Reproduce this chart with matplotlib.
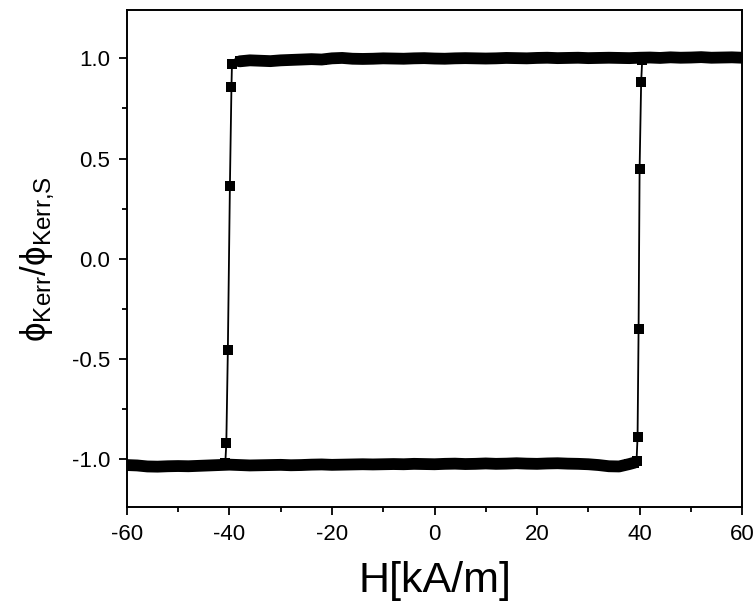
import numpy as np
import matplotlib
matplotlib.use("Agg")
import matplotlib.pyplot as plt
from matplotlib.ticker import MultipleLocator

plt.rcParams['font.family'] = ['Liberation Sans', 'DejaVu Sans']
plt.rcParams['mathtext.fontset'] = 'custom'
plt.rcParams['mathtext.rm'] = 'Liberation Sans'
plt.rcParams['mathtext.it'] = 'Liberation Sans'
plt.rcParams['axes.unicode_minus'] = False

# Saturated branches of the Kerr loop (field in kA/m, normalised Kerr rotation)
H_upper = [-38, -36, -34, -32, -30, -28, -26, -24, -22, -20, -18, -16, -14, -12,
           -10, -8, -6, -4, -2, 0, 2, 4, 6, 8, 10, 12, 14, 16, 18, 20, 22, 24,
           26, 28, 30, 32, 34, 36, 38, 40, 42, 44, 46, 48, 50, 52, 54, 56, 58, 60]
M_upper = [0.985, 0.990, 0.988, 0.986, 0.990, 0.992, 0.994, 0.996, 0.994, 1.000,
           1.002, 0.998, 0.997, 0.998, 1.000, 0.999, 0.998, 1.000, 1.001, 0.999,
           0.998, 1.000, 1.001, 1.000, 0.999, 1.000, 1.002, 1.001, 1.000, 1.002,
           1.003, 1.001, 1.002, 1.003, 1.001, 1.002, 1.003, 1.002, 1.001, 1.003,
           1.004, 1.002, 1.005, 1.003, 1.004, 1.006, 1.003, 1.004, 1.005, 1.003]

H_lower = [-60, -58, -56, -54, -52, -50, -48, -46, -44, -42, -40, -38, -36, -34,
           -32, -30, -28, -26, -24, -22, -20, -18, -16, -14, -12, -10, -8, -6,
           -4, -2, 0, 2, 4, 6, 8, 10, 12, 14, 16, 18, 20, 22, 24, 26, 28, 30, 32,
           34, 36, 38, 39]
M_lower = [-1.030, -1.032, -1.037, -1.038, -1.036, -1.035, -1.036, -1.034, -1.032,
           -1.030, -1.028, -1.030, -1.032, -1.031, -1.030, -1.029, -1.031, -1.030,
           -1.028, -1.027, -1.029, -1.028, -1.027, -1.026, -1.027, -1.026, -1.025,
           -1.026, -1.024, -1.025, -1.026, -1.024, -1.023, -1.025, -1.024, -1.022,
           -1.024, -1.023, -1.021, -1.023, -1.024, -1.022, -1.021, -1.023, -1.024,
           -1.026, -1.030, -1.036, -1.037, -1.025, -1.018]

# Switching points
H_down = [-39.5, -39.6, -39.9, -40.3, -40.6, -40.8]
M_down = [0.970, 0.855, 0.365, -0.455, -0.920, -1.020]
H_up = [39.4, 39.6, 39.8, 40.0, 40.3, 40.5]
M_up = [-1.010, -0.890, -0.350, 0.450, 0.880, 0.990]

# Descending sweep: +60 -> -60, ascending sweep: -60 -> +60
h_u = np.array(H_upper, dtype=float)
m_u = np.array(M_upper)
h_l = np.array(H_lower, dtype=float)
m_l = np.array(M_lower)
desc_h = np.concatenate([h_u[::-1], H_down, h_l[h_l < -41][::-1]])
desc_m = np.concatenate([m_u[::-1], M_down, m_l[h_l < -41][::-1]])
asc_h = np.concatenate([h_l, H_up, h_u[h_u > 41]])
asc_m = np.concatenate([m_l, M_up, m_u[h_u > 41]])

fig = plt.figure(figsize=(7.55, 6.03), dpi=100)
ax = fig.add_axes([0.168, 0.159, 0.815, 0.824])

# saturated branches: densely packed points merge into a thick band
ax.plot(h_u, m_u, color='black', linewidth=8.5, solid_capstyle='round',
        solid_joinstyle='round')
ax.plot(h_l, m_l, color='black', linewidth=8.5, solid_capstyle='round',
        solid_joinstyle='round')

for h, m in [(desc_h, desc_m), (asc_h, asc_m)]:
    ax.plot(h, m, color='black', linewidth=1.3, marker='s', markersize=6.5,
            markeredgewidth=0)

ax.set_xlim(-60, 60)
ax.set_ylim(-1.24, 1.24)
ax.xaxis.set_major_locator(MultipleLocator(20))
ax.xaxis.set_minor_locator(MultipleLocator(10))
ax.yaxis.set_major_locator(MultipleLocator(0.5))
ax.yaxis.set_minor_locator(MultipleLocator(0.25))
ax.yaxis.set_major_formatter(plt.FormatStrFormatter('%.1f'))
ax.tick_params(which='both', direction='out', top=False, right=False, width=1.3)
ax.tick_params(which='major', length=6, labelsize=16, pad=6)
ax.tick_params(which='minor', length=3.5)
for s in ax.spines.values():
    s.set_linewidth(1.4)

ax.set_xlabel('H[kA/m]', fontsize=31, labelpad=12)
ax.set_ylabel(r'ϕ$_{\mathrm{Kerr}}$/ϕ$_{\mathrm{Kerr{,}S}}$', fontsize=25, labelpad=11)

fig.savefig('out.png', dpi=100)
